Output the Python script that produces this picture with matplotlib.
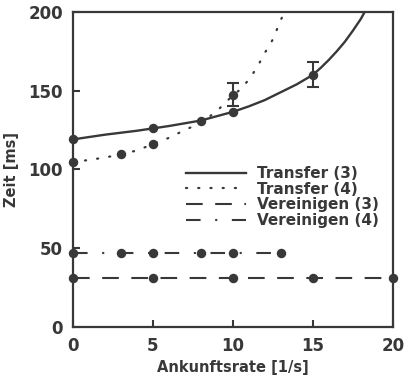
import matplotlib
matplotlib.use("Agg")
import matplotlib.pyplot as plt

# Transfer (3): curve and measured points
t3_curve_x = [0, 2, 4, 6, 8, 10, 11, 12, 13, 14, 15, 15.5, 16, 16.5, 17, 17.5, 18, 18.3]
t3_curve_y = [119, 122, 124.5, 127.5, 131, 136.5, 140, 144, 149, 154, 160, 164.5, 169.5, 175, 181, 188, 195.5, 201]
t3_pts_x = [0, 5, 8, 10, 15]
t3_pts_y = [119, 126, 131, 136.5, 160]

# Transfer (4): curve and measured points
t4_curve_x = [0, 1, 2, 3, 4, 5, 6, 7, 8, 9, 10, 10.5, 11, 11.5, 12, 12.5, 13, 13.3]
t4_curve_y = [104.5, 106, 107.5, 109.5, 112, 116, 120, 125, 129.5, 137, 147, 151, 157, 164.5, 174, 182.5, 195, 201]
t4_pts_x = [0, 3, 5, 10]
t4_pts_y = [104.5, 110, 116, 147]

# error bars (x, centre, low, high)
err_x = [10, 15]
err_y = [147, 160]
err_lo = [140, 152]
err_hi = [155, 168]

# Vereinigen (3) and (4)
v3_x = [0, 5, 10, 15, 20]
v3_y = [31, 31, 31, 31, 31]
v4_x = [0, 3, 5, 8, 10, 13]
v4_y = [47, 47, 47, 47, 47, 47]

ink = "#383838"
plt.rcParams["font.family"] = "DejaVu Sans"
plt.rcParams["font.weight"] = "bold"

fig = plt.figure(figsize=(4.05, 3.81), dpi=100)
ax = fig.add_axes([0.180, 0.142, 0.790, 0.827])

ax.plot(t3_curve_x, t3_curve_y, color=ink, lw=1.7, label="Transfer (3)")
ax.plot(t4_curve_x, t4_curve_y, color=ink, lw=1.6, linestyle=(0, (0.5, 5)),
        dash_capstyle="round", label="Transfer (4)")
ax.plot(v3_x, v3_y, color=ink, lw=1.5, dashes=(8, 6), label="Vereinigen (3)")
ax.plot(v4_x, v4_y, color=ink, lw=1.5, dashes=(7, 7, 1, 7), label="Vereinigen (4)")

for xs, ys in [(t3_pts_x, t3_pts_y), (t4_pts_x, t4_pts_y), (v3_x, v3_y), (v4_x, v4_y)]:
    ax.plot(xs, ys, "o", color=ink, ms=5.8, clip_on=False, zorder=5)

yerr = [[c - lo for c, lo in zip(err_y, err_lo)], [hi - c for c, hi in zip(err_y, err_hi)]]
ax.errorbar(err_x, err_y, yerr=yerr, fmt="none", ecolor=ink, elinewidth=1.5,
            capsize=4, capthick=1.5, zorder=6)

ax.set_xlim(0, 20)
ax.set_ylim(0, 200)
ax.set_xticks([0, 5, 10, 15, 20])
ax.set_yticks([0, 50, 100, 150, 200])
ax.tick_params(direction="in", length=5, width=1.5, color=ink, labelcolor=ink,
               labelsize=12, pad=7)
for s in ax.spines.values():
    s.set_linewidth(1.6)
    s.set_color(ink)

ax.set_xlabel("Ankunftsrate [1/s]", fontsize=10.5, fontweight="bold", color=ink, labelpad=4)
ax.set_ylabel("Zeit [ms]", fontsize=10.5, fontweight="bold", color=ink, labelpad=7)

ax.legend(loc="center right", bbox_to_anchor=(1.0, 0.412), frameon=False,
          handlelength=3.9, handletextpad=0.75, labelspacing=0.05,
          prop={"size": 11, "weight": "bold"}, labelcolor=ink)

fig.savefig("out.png", dpi=100, facecolor="white")
